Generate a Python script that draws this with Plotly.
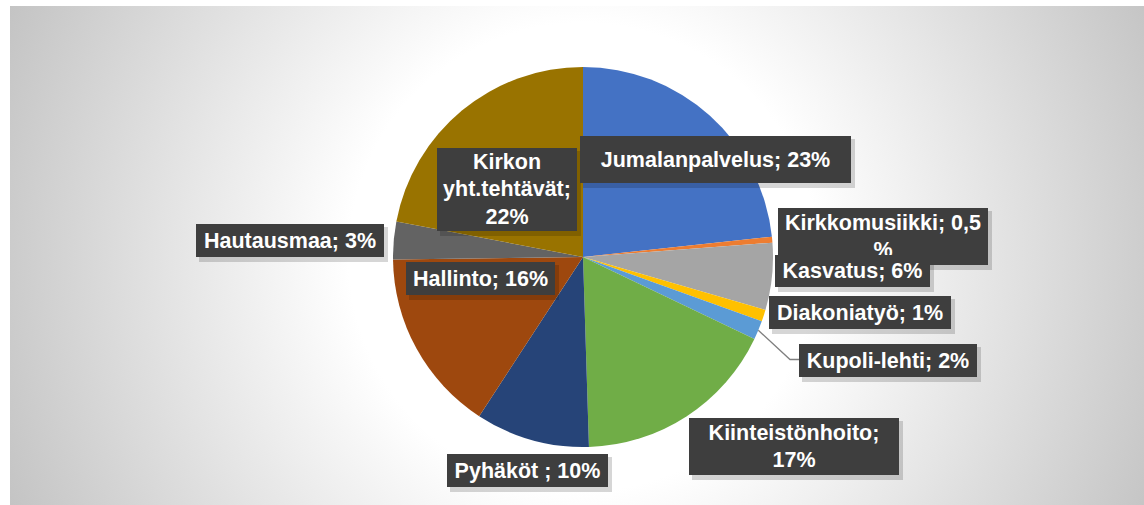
import base64, math
import plotly.graph_objects as go

# ---------------- data ----------------
categories = ["Jumalanpalvelus", "Kirkkomusiikki", "Kasvatus", "Diakoniatyö", "Kupoli-lehti",
              "Kiinteistönhoito", "Pyhäköt ", "Hallinto", "Hautausmaa", "Kirkon yht.tehtävät"]
values = [23.3, 0.5, 5.7, 1.0, 1.6, 17.4, 9.7, 15.6, 3.2, 22.0]
label_texts = ["Jumalanpalvelus; 23%", "Kirkkomusiikki; 0,5<br>%", "Kasvatus; 6%", "Diakoniatyö; 1%",
               "Kupoli-lehti; 2%", "Kiinteistönhoito;<br>17%", "Pyhäköt ; 10%", "Hallinto; 16%",
               "Hautausmaa; 3%", "Kirkon<br>yht.tehtävät;<br>22%"]
colors = ["#4472C4", "#ED7D31", "#A5A5A5", "#FFC000", "#5B9BD5",
          "#70AD47", "#264478", "#9E480E", "#636363", "#997300"]

# ---------------- layout geometry (pixels) ----------------
W, H = 1144, 505
PCX, PCY, PR = 583, 257, 190          # pie centre / radius in px
# label boxes: centre x, centre y, width, height (px)
boxes = [(715.5, 159.5, 271, 47), (883, 236.5, 210, 57), (852.5, 271, 155, 32),
         (860, 312.5, 182, 33), (888, 360.5, 178, 33), (794, 446.5, 210, 57),
         (527.5, 470.5, 161, 33), (480.5, 278.5, 149, 33), (290, 240.5, 188, 33),
         (507, 189.5, 140, 83)]

def px(x):
    return x / W

def py(y):
    return 1 - y / H

fig = go.Figure()
fig.add_trace(go.Pie(
    labels=categories, values=values, sort=False, direction="clockwise", rotation=0,
    marker=dict(colors=colors, line=dict(width=0)),
    textinfo="none", hoverinfo="label+percent", showlegend=False,
    domain=dict(x=[px(PCX - PR), px(PCX + PR)], y=[py(PCY + PR), py(PCY - PR)]),
))

# background radial gradient via svg image
bx0, by0 = 10, 6
bw, bh = W - bx0, H - by0
svg = (f'<svg xmlns="http://www.w3.org/2000/svg" width="{bw}" height="{bh}" viewBox="0 0 {bw} {bh}" '
       f'preserveAspectRatio="none"><defs><radialGradient id="g" gradientUnits="userSpaceOnUse" '
       f'cx="{PCX - bx0}" cy="{PCY - by0}" r="650"><stop offset="0" stop-color="#ffffff"/>'
       f'<stop offset="0.36" stop-color="#ffffff"/><stop offset="1" stop-color="#c0c0c0"/>'
       f'</radialGradient></defs><rect width="{bw}" height="{bh}" fill="url(#g)"/></svg>')
src = "data:image/svg+xml;base64," + base64.b64encode(svg.encode()).decode()

shapes = []
annotations = []
for (cx, cy, w, h), txt in zip(boxes, label_texts):
    # soft shadow
    shapes.append(dict(type="rect", xref="paper", yref="paper", layer="above",
                       x0=px(cx - w / 2 + 3), x1=px(cx + w / 2 + 4),
                       y0=py(cy + h / 2 + 5), y1=py(cy - h / 2 + 3),
                       fillcolor="rgba(0,0,0,0.16)", line=dict(width=0)))
for (cx, cy, w, h), txt in zip(boxes, label_texts):
    annotations.append(dict(
        text=f"<b>{txt}</b>", xref="paper", yref="paper", x=px(cx), y=py(cy),
        xanchor="center", yanchor="middle", showarrow=False,
        width=w, height=h, borderpad=0, borderwidth=0, bgcolor="#3e3e3e",
        font=dict(family="Liberation Sans, Arial, sans-serif", size=21.5, color="white"),
        align="center", valign="middle"))

# leader line for Kupoli-lehti, from the slice's mid angle on the pie edge
total = sum(values)
idx = categories.index("Kupoli-lehti")
mid_frac = (sum(values[:idx]) + values[idx] / 2) / total
ang = 2 * math.pi * mid_frac
ex, ey = PCX + PR * math.sin(ang), PCY - PR * math.cos(ang)
kcx, kcy, kw, kh = boxes[idx]
bxl = kcx - kw / 2
shapes.append(dict(type="path", xref="paper", yref="paper", layer="above",
                   path=f"M {px(ex)},{py(ey)} L {px(bxl - 9)},{py(kcy - 1)} L {px(bxl)},{py(kcy - 1)}",
                   line=dict(color="#7f7f7f", width=1.3)))

fig.update_layout(
    width=W, height=H, margin=dict(l=0, r=0, t=0, b=0),
    paper_bgcolor="white", plot_bgcolor="rgba(0,0,0,0)",
    images=[dict(source=src, xref="paper", yref="paper", x=px(bx0), y=py(by0),
                 sizex=bw / W, sizey=bh / H, sizing="stretch", layer="below",
                 xanchor="left", yanchor="top")],
    shapes=shapes, annotations=annotations,
)

fig.write_html("out.html", config={"displayModeBar": False},
               post_script="document.body.style.margin='0';document.body.style.overflow='hidden';")
